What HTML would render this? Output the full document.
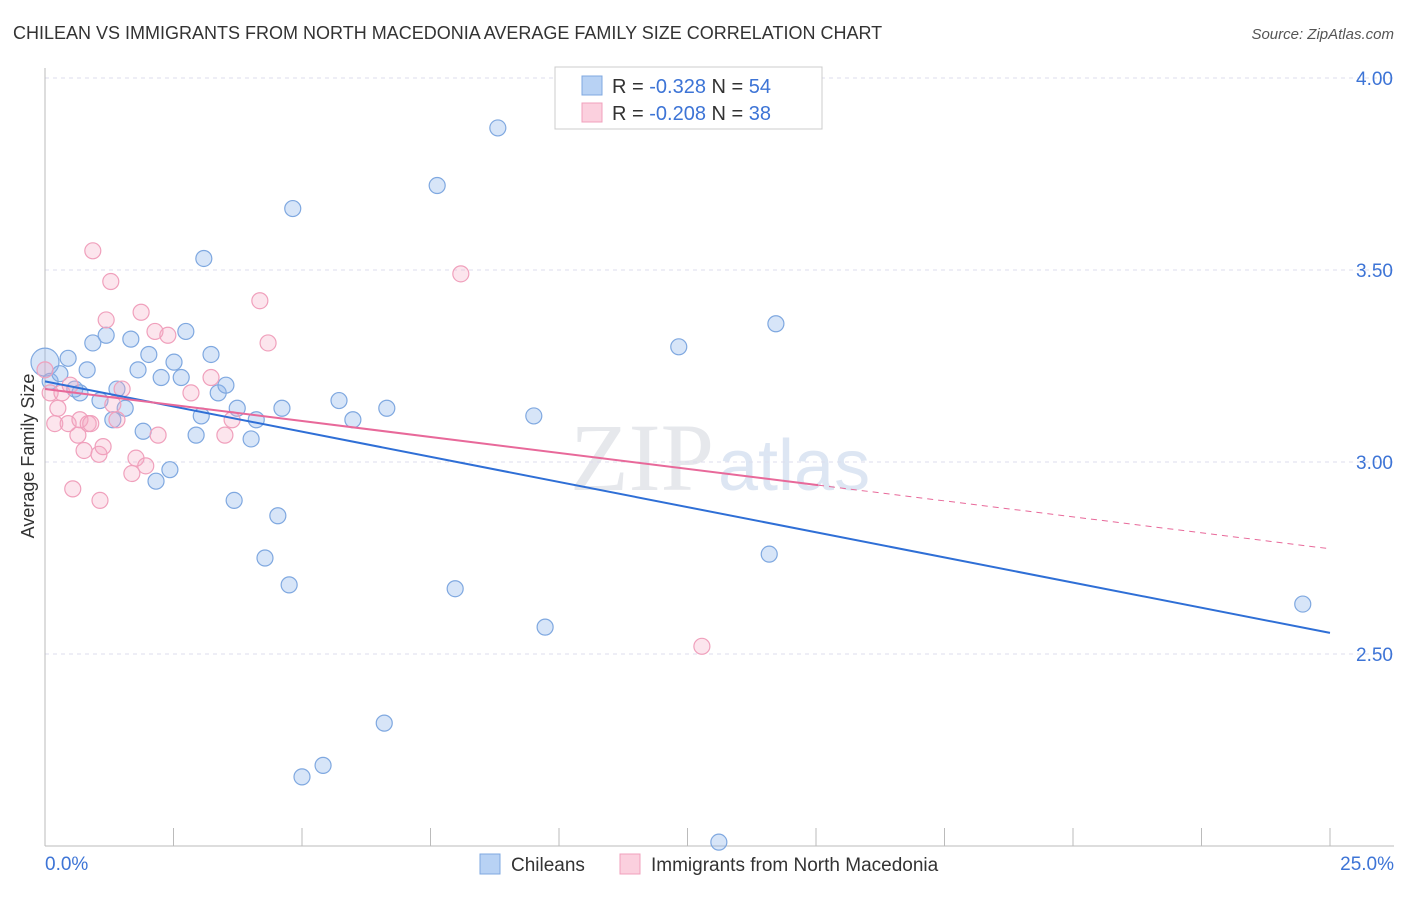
<!DOCTYPE html>
<html><head><meta charset="utf-8">
<style>
body{margin:0;background:#fff;font-family:"Liberation Sans",sans-serif;}
</style></head>
<body>
<svg id="chart" width="1406" height="892" xmlns="http://www.w3.org/2000/svg" font-family="Liberation Sans, sans-serif">
<text x="13" y="39" font-size="18" fill="#333">CHILEAN VS IMMIGRANTS FROM NORTH MACEDONIA AVERAGE FAMILY SIZE CORRELATION CHART</text>
<text x="1394" y="39" font-size="15" fill="#555" text-anchor="end" font-style="italic">Source: ZipAtlas.com</text>
<text x="570" y="490" font-size="96" fill="#e6e8ec" font-family="Liberation Serif, serif">ZIP</text>
<text x="718" y="490" font-size="72" fill="#dde6f3">atlas</text>
<g id="grid"></g>
<g id="axes"></g>
<g id="marks"></g>
<text transform="translate(34,456) rotate(-90)" font-size="18" fill="#333" text-anchor="middle">Average Family Size</text>
<g>
<rect x="555" y="67" width="267" height="62" fill="#fff" stroke="#ccc"/>
<rect x="582" y="76" width="20" height="19" fill="#b8d2f4" stroke="#7fa8e0"/>
<text x="612" y="93" font-size="20" fill="#333">R = <tspan fill="#3d74d6">-0.328</tspan>  N = <tspan fill="#3d74d6">54</tspan></text>
<rect x="582" y="103" width="20" height="19" fill="#fbd0de" stroke="#f0a0bc"/>
<text x="612" y="120" font-size="20" fill="#333">R = <tspan fill="#3d74d6">-0.208</tspan>  N = <tspan fill="#3d74d6">38</tspan></text>
</g>
<g>
<rect x="480" y="854" width="20" height="20" fill="#b8d2f4" stroke="#7fa8e0"/>
<text x="511" y="871" font-size="19" fill="#333">Chileans</text>
<rect x="620" y="854" width="20" height="20" fill="#fbd0de" stroke="#f0a0bc"/>
<text x="651" y="871" font-size="19" fill="#333">Immigrants from North Macedonia</text>
</g>
</svg>
<script>
const blueX=[0.00,0.10,0.29,0.45,0.58,0.68,0.82,0.93,1.07,1.19,1.32,1.40,1.56,1.67,1.81,1.91,2.02,2.16,2.26,2.43,2.51,2.65,2.74,2.94,3.04,3.09,3.23,3.37,3.52,3.68,3.74,4.01,4.11,4.28,4.53,4.61,4.75,4.82,5.00,5.41,5.72,5.99,6.60,6.65,7.63,7.98,8.81,9.51,9.73,12.33,13.11,14.09,14.22,24.47];
const blueY=[3.26,3.21,3.23,3.27,3.19,3.18,3.24,3.31,3.16,3.33,3.11,3.19,3.14,3.32,3.24,3.08,3.28,2.95,3.22,2.98,3.26,3.22,3.34,3.07,3.12,3.53,3.28,3.18,3.20,2.90,3.14,3.06,3.11,2.75,2.86,3.14,2.68,3.66,2.18,2.21,3.16,3.11,2.32,3.14,3.72,2.67,3.87,3.12,2.57,3.30,2.01,2.76,3.36,2.63];
const pinkX=[0.00,0.10,0.19,0.25,0.33,0.45,0.49,0.54,0.64,0.68,0.76,0.84,0.89,0.93,1.05,1.07,1.13,1.19,1.28,1.32,1.40,1.50,1.69,1.77,1.87,1.96,2.14,2.20,2.39,2.84,3.23,3.50,3.64,4.18,4.34,8.09,12.78];
const pinkY=[3.24,3.18,3.10,3.14,3.18,3.10,3.20,2.93,3.07,3.11,3.03,3.10,3.10,3.55,3.02,2.90,3.04,3.37,3.47,3.15,3.11,3.19,2.97,3.01,3.39,2.99,3.34,3.07,3.33,3.18,3.22,3.07,3.11,3.42,3.31,3.49,2.52];
const blueTrend=[3.21,2.555];
const pinkTrend=[3.19,2.774];
const pinkSolidEnd=15.04;
const yTicks=[4.0,3.5,3.0,2.5];
const yTickLabels=["4.00","3.50","3.00","2.50"];
const xTickLabels=["0.0%","25.0%"];

const NS="http://www.w3.org/2000/svg";
const sx=v=>45+v*1285/25;
const sy=v=>846-(v-2)*384;
function mk(tag,attrs,parent){const e=document.createElementNS(NS,tag);for(const k in attrs)e.setAttribute(k,attrs[k]);parent.appendChild(e);return e;}
const grid=document.getElementById('grid'),axes=document.getElementById('axes'),marks=document.getElementById('marks');
yTicks.forEach((t,i)=>{
  const l=mk('line',{x1:45,x2:1394,y1:sy(t),y2:sy(t),stroke:'#dde',"stroke-dasharray":'4,4'},grid);
  
  
  const tx=mk('text',{x:1393,y:sy(t)+7,"font-size":19,fill:'#3d74d6',"text-anchor":'end'},axes);
  tx.textContent=yTickLabels[i];
  
  
});
const ax=mk('line',{x1:45,x2:1394,y1:846,y2:846,stroke:'#bbb'},axes);


const ay=mk('line',{x1:45,x2:45,y1:68,y2:846,stroke:'#bbb'},axes);


for(let i=1;i<=10;i++){
  const t=mk('line',{x1:sx(i*2.5),x2:sx(i*2.5),y1:828,y2:846,stroke:'#bbb'},axes);
  
  
}
[[0,'start',45],[25,'end',1394]].forEach((d,i)=>{
  const t=mk('text',{x:d[2],y:870,"font-size":19,fill:'#3d74d6',"text-anchor":d[1]},axes);
  t.textContent=xTickLabels[i];
  
  
});
blueX.forEach((x,i)=>{
  const c=mk('circle',{cx:sx(x),cy:sy(blueY[i]),r:i===0?14:8,fill:'rgba(140,180,235,0.35)',stroke:'#7fa8e0',"stroke-width":1.2},marks);
  
  
});
pinkX.forEach((x,i)=>{
  const c=mk('circle',{cx:sx(x),cy:sy(pinkY[i]),r:8,fill:'rgba(245,170,195,0.3)',stroke:'#f0a0bc',"stroke-width":1.2},marks);
  
  
});
const pAt=x=>pinkTrend[0]+(pinkTrend[1]-pinkTrend[0])*x/25;
const bl=mk('line',{x1:sx(0),y1:sy(blueTrend[0]),x2:sx(25),y2:sy(blueTrend[1]),stroke:'#2f6fd6',"stroke-width":2},marks);


const pl=mk('line',{x1:sx(0),y1:sy(pinkTrend[0]),x2:sx(pinkSolidEnd),y2:sy(pAt(pinkSolidEnd)),stroke:'#e8699a',"stroke-width":2},marks);


const pd=mk('line',{x1:sx(pinkSolidEnd),y1:sy(pAt(pinkSolidEnd)),x2:sx(25),y2:sy(pinkTrend[1]),stroke:'#e8699a',"stroke-width":1,"stroke-dasharray":'6,5'},marks);


</script>
</body></html>
